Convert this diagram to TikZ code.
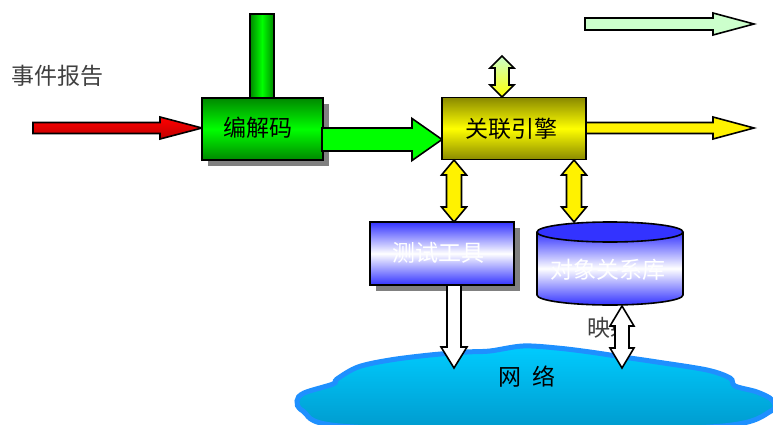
\documentclass[tikz,border=0pt]{standalone}
\usepackage{fontspec}
\newfontfamily\cjk{Noto Sans CJK SC}
\usetikzlibrary{shadows}

\definecolor{paleGreen}{HTML}{CCFFCC}
\definecolor{brightGreen}{HTML}{00FF00}
\definecolor{darkGreen}{HTML}{008800}
\definecolor{olive}{HTML}{8A8A00}
\definecolor{royal}{HTML}{3333FF}
\definecolor{cloudEdge}{HTML}{1E90FF}
\definecolor{cloudTop}{HTML}{00CCFF}
\definecolor{cloudBot}{HTML}{0099CC}
\definecolor{labelGray}{HTML}{404040}

% horizontal block arrow: style, x0, x1, yc, shaft half, head half, head length
\newcommand\hblock[7]{%
  \draw[#1] ({#2},{#4-#5}) -- ({#3-#7},{#4-#5}) -- ({#3-#7},{#4-#6}) -- ({#3},{#4})
    -- ({#3-#7},{#4+#6}) -- ({#3-#7},{#4+#5}) -- ({#2},{#4+#5}) -- cycle;}
% vertical double-headed block arrow: style, xc, y0, y1, shaft half, head half, head length
\newcommand\vdouble[7]{%
  \draw[#1] ({#2},{#3}) -- ({#2+#6},{#3+#7}) -- ({#2+#5},{#3+#7}) -- ({#2+#5},{#4-#7})
    -- ({#2+#6},{#4-#7}) -- ({#2},{#4}) -- ({#2-#6},{#4-#7}) -- ({#2-#5},{#4-#7})
    -- ({#2-#5},{#3+#7}) -- ({#2-#6},{#3+#7}) -- cycle;}
% vertical downward block arrow: style, xc, y0, y1, shaft half, head half, head length
\newcommand\vdown[7]{%
  \draw[#1] ({#2-#5},{#3}) -- ({#2+#5},{#3}) -- ({#2+#5},{#4-#7}) -- ({#2+#6},{#4-#7})
    -- ({#2},{#4}) -- ({#2-#6},{#4-#7}) -- ({#2-#5},{#4-#7}) -- cycle;}

\tikzset{
  outline/.style={draw=black, line width=1.6pt, line join=miter},
  boxshape/.style={outline, rectangle, inner sep=0pt},
  boxshadow/.style={general shadow={fill=black!50, shadow xshift=6pt, shadow yshift=-6pt}},
  lbl/.style={font=\cjk\fontsize{23}{27}\selectfont, inner sep=0pt},
  greenshade/.style={top color=darkGreen, bottom color=darkGreen, middle color=brightGreen},
  oliveshade/.style={top color=olive, bottom color=olive, middle color=yellow},
  blueshade/.style={top color=royal, bottom color=royal, middle color=white},
}

\begin{document}
\begin{tikzpicture}[x=1pt, y=-1pt]
\useasboundingbox (0,0) rectangle (773,425);

% network cloud
\draw[draw=cloudEdge, line width=5pt, top color=cloudTop, bottom color=cloudBot]
  plot[smooth cycle, tension=0.55] coordinates {
    (297,401) (304,393) (333,384) (337,379) (358,367) (390,360) (430,355)
    (467,352) (490,351) (523,346) (557,348) (590,352) (623,357) (657,362)
    (707,370) (730,378) (735,386) (757,392) (772,400) (771,411) (723,426)
    (540,432) (340,426) (303,411)};
\node[lbl] (net) at (527,377) {网\hspace{0.45em}络};

% event report input
\node[lbl, text=labelGray] (report) at (57,76) {事件报告};
\hblock{outline, top color=red, bottom color=red!75!black}{33}{202}{128}{5.5}{11}{42}

% vertical feed bar above the codec
\draw[outline, left color=darkGreen, right color=darkGreen, middle color=brightGreen]
  (250,14) rectangle (274,98);

% codec box
\node[boxshape, boxshadow, greenshade, minimum width=121pt, minimum height=62pt]
  (codec) at (262.5,129) {};
\node[lbl] (codecText) at (258,128) {编解码};

% codec to correlation engine
\hblock{outline, fill=brightGreen}{322}{442}{139.5}{11.5}{21}{30}

% correlation engine
\node[boxshape, oliveshade, minimum width=144pt, minimum height=62pt]
  (engine) at (514,128.5) {};
\node[lbl] (engineText) at (511,129) {关联引擎};

% outputs of the engine
\vdouble{outline, top color=paleGreen, bottom color=yellow}{502}{56}{97}{7}{12}{12}
\hblock{outline, fill=yellow}{586}{754}{128}{5.5}{11}{41}
\hblock{outline, fill=paleGreen}{585}{754}{24}{6}{11}{41}

% test tool box
\node[boxshape, boxshadow, blueshade, minimum width=144pt, minimum height=63pt]
  (tool) at (442,253.5) {};
\node[lbl, text=white] (toolText) at (438,253) {测试工具};

% object relation store (cylinder)
\path[top color=royal, bottom color=royal, middle color=white]
  (537,232) -- (537,295) arc[start angle=180, end angle=360, x radius=73pt, y radius=10pt]
  -- (683,232) -- cycle;
\draw[outline] (537,232) -- (537,295) arc[start angle=180, end angle=360, x radius=73pt, y radius=10pt]
  -- (683,232);
\draw[outline, fill=royal] (610,232) ellipse[x radius=73pt, y radius=10pt];
\node[lbl, text=white] (store) at (608,270) {对象关系库};

% links between engine, tool and store
\vdouble{outline, fill=yellow}{454}{160}{222}{7.5}{12.5}{15}
\vdouble{outline, fill=yellow}{574}{160}{222}{7.5}{12.5}{15}

% links down to the network
\node[lbl, text=labelGray, anchor=west] (mapping) at (587,328) {映射};
\vdown{outline, fill=white}{454}{285}{368}{7}{13}{21}
\vdouble{outline, fill=white}{622}{306}{368}{7}{12}{20}
\end{tikzpicture}
\end{document}
